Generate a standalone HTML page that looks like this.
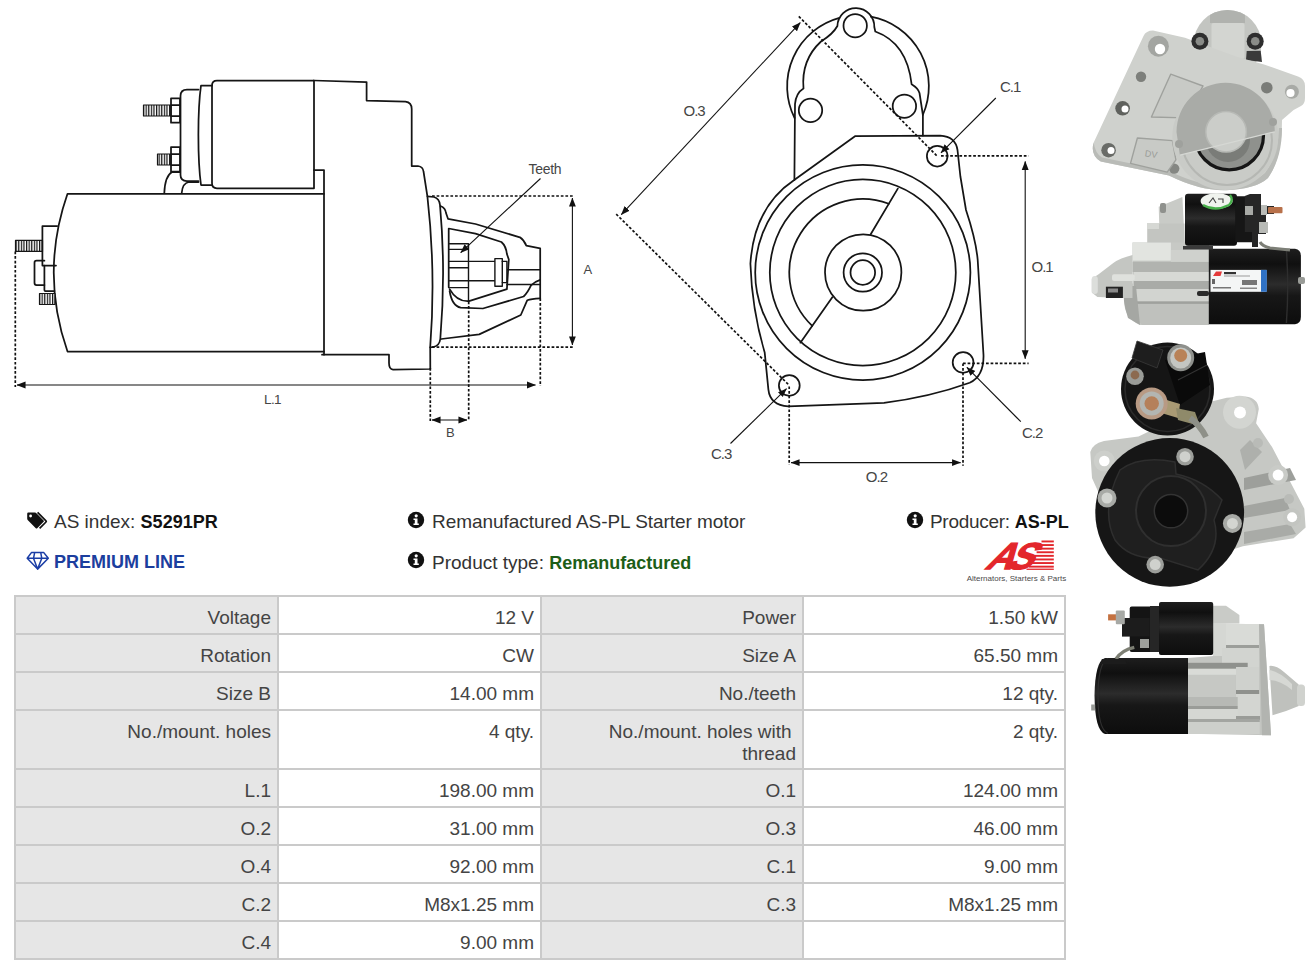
<!DOCTYPE html>
<html><head><meta charset="utf-8">
<style>
html,body{margin:0;padding:0;background:#fff;}
body{width:1316px;height:973px;position:relative;overflow:hidden;font-family:"Liberation Sans",sans-serif;}
.cell{position:absolute;}
.hl{position:absolute;left:14px;width:1052px;height:2px;background:#cacaca;}
.vl{position:absolute;top:595px;height:365px;width:2px;background:#cacaca;}
.tx{position:absolute;font-size:19px;line-height:21.6px;color:#444;text-align:right;white-space:nowrap;}
.info{position:absolute;font-size:19px;line-height:21px;color:#333;white-space:nowrap;}
.info b{color:#111;font-size:18px;}
svg{position:absolute;}
</style></head><body>

<svg style="left:0;top:0" width="1085" height="490" viewBox="0 0 1085 490">
<defs>
<marker id="ar" viewBox="0 0 10 10" refX="9.5" refY="5" markerWidth="9" markerHeight="9" markerUnits="userSpaceOnUse" orient="auto-start-reverse"><path d="M0 1.2 L10 5 L0 8.8 Z" fill="#111"/></marker>
<pattern id="thr" width="2.6" height="20" patternUnits="userSpaceOnUse"><rect width="2.6" height="20" fill="#fff"/><rect x="0" width="1.2" height="20" fill="#111"/></pattern>
</defs>
<g fill="none" stroke="#151515" stroke-width="1.75" stroke-linejoin="round" stroke-linecap="round">
<!-- LEFT DRAWING -->
<!-- solenoid body -->
<path d="M314 80.5 H217 Q212 80.5 212 85.5 V183.3 Q212 188.3 217 188.3 H314 Z" fill="#fff"/>
<path d="M212 85.5 H201 C197.5 110 197.5 160 201 185 H212"/>
<path d="M198.5 89.6 H187 Q180.5 89.6 180.5 96 V175 Q180.5 181 187 181 H198.5"/>
<!-- studs -->
<rect x="143.5" y="105" width="27.5" height="11" fill="url(#thr)" stroke-width="1.2"/>
<path d="M171 98.3 H180 V122.7 H171 Z M171 105 H180 M171 116 H180"/>
<rect x="157.5" y="154" width="13.5" height="11" fill="url(#thr)" stroke-width="1.2"/>
<path d="M171 147 H180 V171.7 H171 Z M171 154 H180 M171 165 H180"/>
<path d="M164.3 193 Q165 176 172 172 H180"/>
<path d="M181.7 193 Q182.5 183 189 182 H198.5"/>
<!-- housing -->
<path d="M314 80.5 L366.6 82.1 V100.6 L405.5 101.7 Q411.7 102.5 411.7 109 V166 H418 Q423 166.5 423.6 172 L427.4 196.3 Q436 272 430.2 347.4 L430.3 369 L393 369.6 Q389 369.3 389 363 V354.7 H322"/>
<path d="M314 170 H324 V354.7"/>
<!-- motor -->
<path d="M324 193.8 H67.5 Q40 272.6 67.5 351.5 H324"/>
<!-- terminal block -->
<rect x="15.5" y="240.4" width="27" height="11" fill="url(#thr)" stroke-width="1.2"/>
<path d="M57.2 226 H42.4 V265.6 H56"/>
<path d="M44.4 265.6 V290 Q44.4 291 45.5 291 H54.5"/>
<path d="M44.4 260.7 H36.5 Q34.5 260.7 34.5 262.7 V283 Q34.5 285 36.5 285 H44.4"/>
<rect x="39.5" y="293.5" width="15.5" height="11" fill="url(#thr)" stroke-width="1.2"/>
<!-- flange -->
<path d="M427.4 196.3 L434 197 Q439.4 198.5 440 205 Q446 272 440.3 339 Q439.5 346 433 347 L430.2 347.4"/>
<!-- nose -->
<path d="M440.5 206 Q445.5 208 446 213 L448 218.8 L475.5 224 L519.9 237.3 Q524 240 526.3 245.7 L540.2 248.4 V298.4"/>
<path d="M441.3 339 L479.2 334.4 L520.8 315 L527.3 300.2 Q531 298.8 540.2 298.4"/>
<!-- pinion cavity -->
<path d="M448.7 287.3 V228.5 L475.5 233.6 L501.4 242 Q506 246 506.9 254 L508.8 259.5 L506.9 289.1 L469 301.1 Q457 302 449.6 289.1"/>
<path d="M449.6 291 Q452 306 460.7 307.6 L482.9 308.5 L523.6 296.5 Q527.5 293 531 285.4 Q535 281.5 540.2 279.9"/>
<path d="M449.6 243.8 H468.5 V301 M449.6 249.4 H468.5 M449.6 261.4 H494.9 M449.6 267.8 H468.5 M449.6 280.8 H494.9 M449.6 287.6 H468.5" stroke-width="1.4"/>
<rect x="494.9" y="258.6" width="7.4" height="27.7" fill="#fff" stroke-width="1.4"/>
<path d="M502.3 261.4 H506.9 V282.6 H502.3 M506.9 269.7 H540.2 M506.9 284.5 H540.2" stroke-width="1.4"/>
</g>
<!-- dims left -->
<g fill="none" stroke="#111" stroke-width="1.7" stroke-dasharray="2.7 1.9">
<path d="M432 196 H574 M432 347.1 H574 M468.7 301.5 V421 M430.3 368 V421 M540.3 298.4 V386 M15.3 251.5 V387"/>
</g>
<g fill="none" stroke="#111" stroke-width="1.1">
<path d="M572.4 198 V345" marker-start="url(#ar)" marker-end="url(#ar)"/>
<path d="M432 420 H467" marker-start="url(#ar)" marker-end="url(#ar)"/>
<path d="M17 385 H535.5" marker-start="url(#ar)" marker-end="url(#ar)"/>
<path d="M540.5 178.5 L460.7 252.6" marker-end="url(#ar)"/>
</g>
<g font-family="Liberation Sans" fill="#454545" font-size="14">
<text x="528.5" y="173.7" letter-spacing="-0.3">Teeth</text>
<text x="583.5" y="274.3" font-size="13">A</text>
<text x="446" y="437" font-size="13">B</text>
<text x="264" y="404.3" font-size="13.5" letter-spacing="-0.6">L.1</text>
</g>

<!-- MIDDLE DRAWING -->
<g fill="none" stroke="#151515" stroke-width="1.75" stroke-linejoin="round" stroke-linecap="round">
<path d="M794.6 118 A70.9 70.9 0 0 1 839.4 17.9 M870.8 16.6 A70.9 70.9 0 0 1 922.8 115"/>
<path d="M794.4 180 L795 104 Q796 93 803.5 88.5 Q801 60 821 41.5 Q833 34 837.4 26 A18.2 18.2 0 0 1 874.3 27 L875.3 31.5 Q907 43 911.6 84.2 Q918 88 919.5 93 L922.9 115 V135.6"/>
<circle cx="855.2" cy="25.7" r="11.7"/>
<circle cx="810.5" cy="110.3" r="11.7"/>
<circle cx="904.4" cy="106.2" r="11.7"/>
<path d="M855 136.2 L940.3 135.6 Q955.5 136.5 957.5 150 L960.4 176.5 L966 210 Q976 240 977.7 260 L983.5 355 Q984 376 969.7 382.7 Q930 397 884 402.8 L788.3 406.4 Q770 405 768.4 389.6 L764.7 352.6 Q752 310 750.4 263.8 Q754 207 794.2 180 Z"/>
<circle cx="862.8" cy="272.5" r="107.6"/>
<circle cx="862.8" cy="272.5" r="93"/>
<path d="M888.8 203.75 A73.5 73.5 0 0 0 812.25 325.86"/>
<path d="M897.8 188.6 L870.7 234.2 M832.5 297.1 L800.4 342.7"/>
<circle cx="863.2" cy="272.5" r="38.2"/>
<circle cx="862.8" cy="272.5" r="19.2"/>
<circle cx="862.8" cy="272.5" r="12.3"/>
<circle cx="937.2" cy="156.2" r="10.3"/>
<circle cx="963.1" cy="362.4" r="10.4"/>
<circle cx="789.3" cy="385.4" r="10.4"/>
</g>
<g fill="none" stroke="#111" stroke-width="1.7" stroke-dasharray="2.7 1.9">
<path d="M798.8 16.4 L937.2 156.2 M616.2 214.1 L789.3 385.4 M941 155.8 H1028.6 M963 363.4 H1028.6 M963 363.4 V465.7 M789.2 386.4 V464.8"/>
</g>
<g fill="none" stroke="#111" stroke-width="1.1">
<path d="M621.3 214.7 L800.3 22.6" marker-start="url(#ar)" marker-end="url(#ar)"/>
<path d="M1025.2 161.4 V358.7" marker-start="url(#ar)" marker-end="url(#ar)"/>
<path d="M791 462.6 H960.6" marker-start="url(#ar)" marker-end="url(#ar)"/>
<path d="M995.8 98 L941 152.8" marker-end="url(#ar)"/>
<path d="M1020.8 421.7 L966.9 367.3" marker-end="url(#ar)"/>
<path d="M730.5 443.5 L786.5 388.7" marker-end="url(#ar)"/>
</g>
<g font-family="Liberation Sans" fill="#454545" font-size="15" letter-spacing="-1">
<text x="683.5" y="116">O.3</text>
<text x="1000" y="91.8">C.1</text>
<text x="1031.5" y="271.5">O.1</text>
<text x="1022" y="437.6">C.2</text>
<text x="865.8" y="482.1">O.2</text>
<text x="711" y="458.8">C.3</text>
</g>
</svg>

<svg style="left:1085px;top:0" width="231" height="790" viewBox="1085 0 231 790">
<defs>
<linearGradient id="blk" x1="0" y1="0" x2="0" y2="1">
<stop offset="0" stop-color="#1e1e1e"/><stop offset="0.2" stop-color="#101010"/><stop offset="0.47" stop-color="#2c2c2c"/><stop offset="0.62" stop-color="#171717"/><stop offset="1" stop-color="#0d0d0d"/>
</linearGradient>
<linearGradient id="slv" x1="0" y1="0" x2="0" y2="1">
<stop offset="0" stop-color="#d8dad6"/><stop offset="0.5" stop-color="#c6c8c4"/><stop offset="1" stop-color="#b4b6b2"/>
</linearGradient>
<radialGradient id="disc" cx="0.45" cy="0.4" r="0.65">
<stop offset="0" stop-color="#262626"/><stop offset="1" stop-color="#111"/>
</radialGradient>
</defs>
<!-- PHOTO 1 -->
<g>
<clipPath id="bossclip"><circle cx="1227.5" cy="44" r="34"/></clipPath>
<circle cx="1227.5" cy="44" r="34" fill="#c3c5c1"/>
<g clip-path="url(#bossclip)"><rect x="1211.5" y="23" width="33" height="36" rx="2" fill="#d3d5d1"/>
<rect x="1210" y="5" width="35" height="18" fill="#b0b2ae"/></g>
<path d="M1246.7 51 L1260.7 50.7 L1262 62 L1246 60 Z" fill="#3a3a3a"/>
<path d="M1153 30.5 Q1146 30.5 1143.5 36 L1093.7 142.4 Q1090 155 1100.7 161.6 L1168.9 175.6 Q1200 191 1226 190.3 Q1256 189 1268 178 Q1282 158 1282 120 L1293.6 110 L1301 106 Q1305 104 1305 98 L1305 86 Q1305 79 1298 76.5 L1264.8 64.7 L1236 56.4 L1185 37.7 Z" fill="#cfd1cd"/>
<path d="M1093.7 142.4 Q1090 155 1100.7 161.6 L1168.9 175.6 Q1200 191 1226 190.3 Q1256 189 1268 178 Q1282 158 1282 128 L1279 128 Q1278 156 1265 173 Q1250 186 1226 186.5 Q1200 186 1170 171.5 L1102 157.5 Q1095 153 1093.7 142.4 Z" fill="#b9bbb7"/>
<circle cx="1199.9" cy="41.3" r="8.5" fill="#2e2e2e"/><circle cx="1199.9" cy="41.3" r="4.3" fill="#8a8c88"/>
<circle cx="1255.2" cy="41.3" r="8.5" fill="#2e2e2e"/><circle cx="1255.2" cy="41.3" r="4.3" fill="#8a8c88"/>
<circle cx="1158.4" cy="46.2" r="10.5" fill="#a3a5a1"/><circle cx="1160" cy="49" r="5.2" fill="#fff"/>
<circle cx="1141" cy="76.8" r="5.2" fill="#7d7f7b"/>
<circle cx="1122.6" cy="108.3" r="7.3" fill="#5f615d"/><circle cx="1125" cy="109" r="3.5" fill="#fff"/>
<circle cx="1108.6" cy="150.2" r="7.3" fill="#6a6c68"/><circle cx="1111" cy="150.5" r="3.5" fill="#fff"/>
<circle cx="1174.2" cy="168.6" r="5.2" fill="#858783"/>
<circle cx="1266.8" cy="87.7" r="5.8" fill="#7a7c78"/>
<circle cx="1291.9" cy="91.8" r="7" fill="#a8aaa6"/><circle cx="1290.5" cy="93" r="4.1" fill="#fff"/>
<path d="M1170.7 74.2 L1203 86 L1185 117.9 L1151.4 117 Z" fill="#c8cac6" stroke="#9fa19d" stroke-width="1.4" stroke-linejoin="round"/>
<path d="M1137.4 138 L1172.4 140.6 L1175.9 159.9 L1167.2 172.1 L1130.5 163.4 Z" fill="#c8cac6" stroke="#9fa19d" stroke-width="1.4" stroke-linejoin="round"/>
<text x="1145" y="157" font-family="Liberation Sans" font-size="9" fill="#9a9c98" transform="rotate(8 1150 153)">DV</text>
<circle cx="1225.3" cy="137" r="53" fill="#c9cbc7"/>
<circle cx="1227" cy="140" r="45" fill="none" stroke="#b5b7b3" stroke-width="2"/>
<circle cx="1229.2" cy="135.5" r="34.3" fill="#8f918d" stroke="#161616" stroke-width="3.2"/>
<circle cx="1228" cy="140" r="22" fill="#7a7c78"/>
<path d="M1179.9 155.2 L1274.8 131.8 A48 48 0 0 0 1176.5 132 Z" fill="#a9aba7"/>
<circle cx="1226.1" cy="131.8" r="20.3" fill="#cbcdc9" stroke="#b7b9b5" stroke-width="1.5"/>
<path d="M1179.9 155.2 L1274.8 131.8" stroke="#d6d8d4" stroke-width="1.2"/>
<circle cx="1179" cy="144" r="4" fill="#9fa19d"/>
<circle cx="1273" cy="122" r="4" fill="#9fa19d"/>
</g>
<!-- PHOTO 2 -->
<g>
<path d="M1158.7 206.7 L1182.4 197 L1185 248 L1160 248 Z" fill="#c9cbc7"/>
<rect x="1160" y="203" width="6" height="10" rx="2" fill="#8f918d"/>
<path d="M1147.2 223.4 H1184.5 V248.3 H1147.2 Z" fill="#c3c5c1"/>
<rect x="1147" y="223" width="12" height="6" fill="#d6d8d4"/>
<path d="M1132.5 242.6 H1209 V325.1 H1140 Q1124 318 1124 300 L1132.5 283 Z" fill="#c7c9c5"/>
<rect x="1132.5" y="242.6" width="38.4" height="18" fill="#e2e4e0"/>
<rect x="1132.5" y="261.8" width="76.5" height="10.2" fill="#b1b3af"/>
<rect x="1170.9" y="250" width="38" height="11.8" fill="#cfd1cd"/>
<rect x="1134" y="272" width="75" height="9" fill="#d7d9d5"/>
<rect x="1134" y="281" width="75" height="8" fill="#a9aba7"/>
<rect x="1134" y="289" width="75" height="12" fill="#d2d4d0"/>
<rect x="1134" y="301.4" width="75" height="2.5" fill="#9fa19d"/>
<path d="M1134 304 H1209 V325.1 H1142 Q1134 318 1134 304 Z" fill="#bfc1bd"/>
<path d="M1124 286 Q1122 300 1128 318 L1140 325 L1136 286 Z" fill="#a5a7a3"/>
<path d="M1132.5 255 Q1120 258 1113.3 263 L1098.6 274.3 L1091.8 278.8 L1091.8 292.4 L1097.4 296.9 L1122.3 298 L1132.5 298 Z" fill="#c4c6c2"/>
<rect x="1091.8" y="276" width="6" height="18" rx="3" fill="#dcdedb"/>
<rect x="1112" y="274.3" width="22.7" height="6.7" rx="2" fill="#dfe1dd"/>
<rect x="1105.9" y="286.7" width="17" height="11.3" fill="#232323"/>
<rect x="1108" y="288.5" width="10" height="4" fill="#8a8a8a"/>
<rect x="1197" y="291" width="12" height="5" rx="2" fill="#2a2a2a"/>
<path d="M1208.8 248.8 H1295 Q1300.9 249.5 1300.9 256 V317 Q1300.9 323.5 1295 324.3 H1208.8 Z" fill="url(#blk)"/>
<path d="M1286.4 250 Q1289 286 1286.4 323" fill="none" stroke="#2e2e2e" stroke-width="1.4"/>
<rect x="1210.5" y="269.9" width="56" height="21.9" fill="#f4f6f6"/>
<rect x="1261" y="269.9" width="5.8" height="21.9" fill="#2f72c6"/>
<path d="M1213 276 L1216 271.5 H1219 L1222 271.5 L1220.5 276 Z" fill="#e43a3a"/>
<rect x="1224" y="272" width="12" height="2.2" fill="#333"/>
<rect x="1224" y="275.5" width="26" height="1" fill="#999"/>
<rect x="1212" y="279" width="3" height="5" fill="#666"/>
<rect x="1242" y="280" width="15" height="5" fill="#777"/>
<rect x="1213" y="287" width="18" height="1.5" fill="#777"/>
<rect x="1240" y="287.5" width="17" height="1.5" fill="#888"/>
<rect x="1298" y="277" width="7" height="7" rx="2" fill="#9a9c98"/>
<rect x="1185" y="193.8" width="52" height="52" rx="3" fill="url(#blk)"/>
<rect x="1235.2" y="196.3" width="22" height="46" rx="1.5" fill="#161616"/>
<rect x="1183" y="246" width="30" height="3.5" fill="#3a3a3a"/>
<ellipse cx="1216.6" cy="201" rx="16" ry="7.8" fill="#f0f3ee"/>
<path d="M1203 205 Q1215 212 1229 205 Q1234 200 1230 195" fill="none" stroke="#49b04c" stroke-width="2.4"/>
<path d="M1209 203 L1213 198 L1216 203 M1218 199 H1223 V203" fill="none" stroke="#444" stroke-width="1.1"/>
<path d="M1244.8 196 L1250 193.9 H1261 V206 H1274 V214 H1266 V234 H1258 V247 H1252 V232 H1244.8 Z" fill="#262626"/>
<rect x="1245" y="206" width="8" height="9" fill="#a8aaa6"/>
<rect x="1261" y="205" width="6" height="10" fill="#b9bbb7"/>
<rect x="1268" y="207" width="14.5" height="6.2" rx="1" fill="#b8714a"/>
<rect x="1259" y="222" width="9" height="11" fill="#b8bab6"/>
<path d="M1260 242 Q1262 246 1270 248 L1290 250" fill="none" stroke="#7d7f77" stroke-width="3"/>
</g>
<!-- PHOTO 3 -->
<g>
<path d="M1090.3 452 Q1092 444 1104 441 L1138.5 436.6 L1210.7 401.8 L1226.7 397.8 L1245.4 396.5 Q1258 398 1258.8 409 L1256.1 423.2 L1272.2 447.3 L1304.3 508.8 L1305.6 527.5 L1293.6 538.2 L1242.8 546.2 L1200 560 L1120 540 L1092 478 Z" fill="#c6c8c4"/>
<path d="M1250 440 L1262 452 L1245 470 L1240 450 Z" fill="#aeb0ac"/>
<path d="M1244 478 L1290 468 L1296 480 L1244 490 Z" fill="#9d9f9b"/>
<path d="M1244 506 L1285 498 L1290 510 L1244 518 Z" fill="#a3a5a1"/>
<path d="M1244 532 L1290 524 L1296 534 L1244 544 Z" fill="#a9aba7"/>
<circle cx="1239.5" cy="412.2" r="16.5" fill="#d3d5d1"/><circle cx="1240" cy="412.5" r="6" fill="#fff"/>
<circle cx="1278.1" cy="475.1" r="10" fill="#c9cbc7"/><circle cx="1278.1" cy="475.1" r="5.5" fill="#fff"/>
<circle cx="1292.1" cy="517.2" r="9" fill="#c3c5c1"/><circle cx="1292.1" cy="517.2" r="5" fill="#fff"/>
<circle cx="1258" cy="443" r="5" fill="#b9bbb7"/>
<circle cx="1289" cy="499" r="5" fill="#b9bbb7"/>
<circle cx="1104.3" cy="461" r="10.5" fill="#cdcfcb"/><circle cx="1104.3" cy="461" r="5.3" fill="#fff"/>
<circle cx="1167.5" cy="389" r="46.5" fill="#151515"/>
<circle cx="1167.5" cy="389" r="42.5" fill="none" stroke="#2a2a2a" stroke-width="1.6"/>
<path d="M1137 341 L1163 350 L1157 368 L1132 358 Z" fill="#1e1e1e" stroke="#3a3a3a" stroke-width="0.8"/>
<path d="M1165 360 L1205 352 L1210 385 L1180 405 Z" fill="#0a0a0a"/>
<path d="M1178 380 L1207 365" stroke="#333" stroke-width="1.2"/>
<circle cx="1180.7" cy="357.8" r="13.5" fill="#8e908c"/><circle cx="1180.7" cy="358" r="10.5" fill="#c4c6c2"/><circle cx="1180.7" cy="355.5" r="6.5" fill="#b98257"/>
<circle cx="1135" cy="376.2" r="8.8" fill="#9a9c98"/><circle cx="1135" cy="375" r="4.4" fill="#8c6a50"/>
<path d="M1160 398 L1180 404 L1178 418 L1158 412 Z" fill="#a99a74"/>
<path d="M1176 408 L1195 412 L1200 426 L1178 420 Z" fill="#8f8a6a"/>
<path d="M1190 418 Q1200 425 1206 437" stroke="#8e9088" stroke-width="6" fill="none"/>
<circle cx="1151.7" cy="403.5" r="16" fill="#b89a84"/><circle cx="1151.7" cy="403.5" r="12" fill="#b3b5b1"/><circle cx="1151.7" cy="403.5" r="7.2" fill="#b5805a"/>
<circle cx="1169.7" cy="512.4" r="74.4" fill="#161616"/>
<path d="M1120 470 Q1140 455 1175 462 L1176 474 Q1204 480 1222 500 L1214 520 Q1222 548 1198 570 L1160 558 Q1130 560 1115 540 Q1100 510 1120 470 Z" fill="#1f1f1f" stroke="#2e2e2e" stroke-width="1.5"/>
<circle cx="1171" cy="511.1" r="35" fill="#1a1a1a" stroke="#2f2f2f" stroke-width="2"/>
<circle cx="1171" cy="511.1" r="16.7" fill="#0c0c0c" stroke="#333" stroke-width="1.5"/>
<circle cx="1185" cy="456.7" r="8.8" fill="#9c9e9a"/><circle cx="1185" cy="456.7" r="5.5" fill="#cfd1cd"/>
<circle cx="1107" cy="498" r="9.5" fill="#a8aaa6"/><circle cx="1107" cy="498" r="5.5" fill="#d3d5d1"/>
<circle cx="1232.4" cy="523.4" r="9.5" fill="#a8aaa6"/><circle cx="1232.4" cy="523.4" r="5.5" fill="#d3d5d1"/>
<circle cx="1155.2" cy="564.6" r="8.8" fill="#9c9e9a"/><circle cx="1155.2" cy="564.6" r="5.5" fill="#cfd1cd"/>
</g>
<!-- PHOTO 4 -->
<g>
<path d="M1213 605.8 L1226 605.8 L1239.4 615 L1239.4 623.5 L1213 623.5 Z" fill="#c9cbc7"/>
<path d="M1187.7 658 L1213 656 L1213 623.5 L1264 624.3 L1271 735.3 L1187.7 733.8 Z" fill="#c3c5c1"/>
<path d="M1213 623.5 H1226 V656 H1213 Z" fill="#d5d7d3"/>
<path d="M1226 624 H1259 V645 H1226 Z" fill="#d9dbd7"/>
<rect x="1226" y="645" width="33" height="3" fill="#9c9e9a"/>
<path d="M1222 648 H1259 V667 H1222 Z" fill="#d2d4d0"/>
<rect x="1187.7" y="662.8" width="60" height="6" fill="#8f918d"/>
<rect x="1187.7" y="668.8" width="56" height="6" fill="#d9dbd7"/>
<path d="M1236 667 H1259 V690 H1236 Z" fill="#cfd1cd"/>
<rect x="1187.7" y="675" width="48" height="22" fill="#c6c8c4"/>
<rect x="1236" y="690" width="23" height="4" fill="#8f918d"/>
<path d="M1236 694 H1260 V716 H1236 Z" fill="#d3d5d1"/>
<rect x="1187.7" y="697" width="50" height="9" fill="#b7b9b5"/>
<rect x="1187.7" y="706" width="50" height="3" fill="#9a9c98"/>
<rect x="1187.7" y="709" width="50" height="10" fill="#d5d7d3"/>
<rect x="1236" y="716" width="24" height="4" fill="#9a9c98"/>
<rect x="1187.7" y="719" width="72" height="3" fill="#a3a5a1"/>
<rect x="1187.7" y="722" width="72" height="12" fill="#cdcfcb"/>
<path d="M1259 624.3 L1264 624.3 L1271 735.3 L1262 735.3 Z" fill="#b2b4b0"/>
<path d="M1269.4 665.9 Q1276 665 1284 672 L1298.7 684.4 L1298.7 706 Q1285 712 1272.5 715.3 Z" fill="#bfc1bd"/>
<path d="M1269.4 670 Q1280 672 1292 684 L1292 690 Q1280 680 1269.4 680 Z" fill="#d6d8d4"/>
<rect x="1297" y="684.4" width="8" height="21.6" rx="3.5" fill="#d0d2ce"/>
<path d="M1188 658 H1105 Q1095 661 1094.5 696 Q1095 731 1105 733.9 H1188 Z" fill="url(#blk)"/>
<path d="M1108 658.5 Q1098 663 1098 696 Q1098 729 1108 733.5" fill="none" stroke="#2e2e2e" stroke-width="1.2"/>
<rect x="1091.2" y="704.5" width="4" height="6" fill="#9a9c98"/>
<rect x="1159" y="601.9" width="54.2" height="53.2" rx="2" fill="url(#blk)"/>
<rect x="1129.7" y="606.6" width="29.5" height="45.4" rx="2" fill="#141414"/>
<rect x="1150" y="606" width="9" height="46" fill="#262626"/>
<rect x="1122" y="618" width="27.8" height="18.6" fill="#1c1c1c"/>
<rect x="1108.1" y="614.3" width="9.3" height="6.1" fill="#c47140"/>
<rect x="1115.8" y="610.4" width="9" height="13.9" rx="1" fill="#a7a9a5"/>
<rect x="1140" y="639" width="9" height="9" fill="#9d9f9b"/>
<path d="M1116 659 Q1122 650 1134.3 647.4" fill="none" stroke="#7d7f74" stroke-width="3.5"/>
<path d="M1102 659 H1125 L1127 664 H1100 Z" fill="#1c1c1c"/>
</g>
</svg>

<svg style="left:24px;top:508px" width="26" height="24" viewBox="24 508 26 24">
 <path d="M28.3 512.6 H35 Q35.8 512.6 36.4 513.2 L43.6 520.4 Q44.3 521.1 43.6 521.8 L37.2 528.2 Q36.5 528.9 35.8 528.2 L27.9 520.3 Q27.2 519.6 27.2 518.8 V513.7 Q27.2 512.6 28.3 512.6 Z" fill="#111"/>
 <circle cx="30.6" cy="516" r="1.4" fill="#fff"/>
 <path d="M37.6 512.4 L46 520.8 Q46.6 521.4 46 522 L39.6 528.4" fill="none" stroke="#111" stroke-width="1.7"/>
</svg>
<div class="info" style="left:54px;top:511px">AS index: <b>S5291PR</b></div>
<svg style="left:24px;top:548px" width="28" height="26" viewBox="24 548 28 26">
 <path d="M31.6 552.4 H43.6 L48.3 558.3 L37.6 569.1 L27.2 558.3 Z M27.2 558.3 H48.3 M34.7 552.4 L33.5 558.3 L37.6 569.1 L41.8 558.3 L40.7 552.4" fill="none" stroke="#1b3ea6" stroke-width="1.5" stroke-linejoin="round"/>
</svg>
<div class="info" style="left:54px;top:551.5px;color:#1c3e9e;font-weight:bold;font-size:18px">PREMIUM LINE</div>
<svg style="left:407px;top:511px" width="18" height="18" viewBox="0 0 18 18">
 <circle cx="9" cy="9" r="8.2" fill="#111"/>
 <circle cx="9.2" cy="4.8" r="1.6" fill="#fff"/>
 <path d="M6.5 7.5 H10.5 V12.5 H11.8 V14 H6.5 V12.5 H7.8 V9 H6.5 Z" fill="#fff"/>
</svg>
<div class="info" style="left:432px;top:511px;letter-spacing:-0.05px">Remanufactured AS-PL Starter motor</div>
<svg style="left:407px;top:551px" width="18" height="18" viewBox="0 0 18 18">
 <circle cx="9" cy="9" r="8.2" fill="#111"/>
 <circle cx="9.2" cy="4.8" r="1.6" fill="#fff"/>
 <path d="M6.5 7.5 H10.5 V12.5 H11.8 V14 H6.5 V12.5 H7.8 V9 H6.5 Z" fill="#fff"/>
</svg>
<div class="info" style="left:432px;top:551.5px">Product type: <b style="color:#1d5e17">Remanufactured</b></div>
<svg style="left:906px;top:511px" width="18" height="18" viewBox="0 0 18 18">
 <circle cx="9" cy="9" r="8.2" fill="#111"/>
 <circle cx="9.2" cy="4.8" r="1.6" fill="#fff"/>
 <path d="M6.5 7.5 H10.5 V12.5 H11.8 V14 H6.5 V12.5 H7.8 V9 H6.5 Z" fill="#fff"/>
</svg>
<div class="info" style="left:930px;top:511px;letter-spacing:-0.3px">Producer: <b style="letter-spacing:0">AS-PL</b></div>

<svg style="left:960px;top:535px" width="110" height="50" viewBox="960 535 110 50">
<g fill="#e3262b">
<text x="0" y="0" transform="translate(984,569.3) skewX(-33) scale(1.0,1)" font-family="Liberation Sans" font-weight="bold" font-size="37.5" letter-spacing="-5.5" stroke="#e3262b" stroke-width="1.3">AS</text>
<rect x="1041.5" y="540.5" width="12.3" height="1.9"/>
<rect x="1040.2" y="544.1" width="13.6" height="1.9"/>
<rect x="1038.6" y="547.7" width="15.2" height="1.9"/>
<rect x="1036.6" y="551.3" width="17.2" height="1.9"/>
<rect x="1035" y="554.9" width="18.8" height="1.9"/>
<rect x="1033.2" y="558.5" width="20.6" height="1.9"/>
<rect x="1031" y="562.1" width="22.8" height="1.9"/>
<rect x="1028.6" y="565.7" width="25.2" height="1.9"/>
<rect x="1026.5" y="568.6" width="27.3" height="1.3"/>
</g>
<text x="966.7" y="580.8" font-family="Liberation Sans" font-size="8" fill="#4a4a4a" textLength="99.5" lengthAdjust="spacingAndGlyphs">Alternators, Starters &amp; Parts</text>
</svg>

<div class="cell" style="left:16px;top:597px;width:261px;height:36px;background:#e6e6e6"></div>
<div class="cell" style="left:279px;top:597px;width:261px;height:36px;background:#fff"></div>
<div class="cell" style="left:542px;top:597px;width:260px;height:36px;background:#e6e6e6"></div>
<div class="cell" style="left:804px;top:597px;width:260px;height:36px;background:#fff"></div>
<div class="cell" style="left:16px;top:635px;width:261px;height:36px;background:#e6e6e6"></div>
<div class="cell" style="left:279px;top:635px;width:261px;height:36px;background:#fff"></div>
<div class="cell" style="left:542px;top:635px;width:260px;height:36px;background:#e6e6e6"></div>
<div class="cell" style="left:804px;top:635px;width:260px;height:36px;background:#fff"></div>
<div class="cell" style="left:16px;top:673px;width:261px;height:36px;background:#e6e6e6"></div>
<div class="cell" style="left:279px;top:673px;width:261px;height:36px;background:#fff"></div>
<div class="cell" style="left:542px;top:673px;width:260px;height:36px;background:#e6e6e6"></div>
<div class="cell" style="left:804px;top:673px;width:260px;height:36px;background:#fff"></div>
<div class="cell" style="left:16px;top:711px;width:261px;height:57px;background:#e6e6e6"></div>
<div class="cell" style="left:279px;top:711px;width:261px;height:57px;background:#fff"></div>
<div class="cell" style="left:542px;top:711px;width:260px;height:57px;background:#e6e6e6"></div>
<div class="cell" style="left:804px;top:711px;width:260px;height:57px;background:#fff"></div>
<div class="cell" style="left:16px;top:770px;width:261px;height:36px;background:#e6e6e6"></div>
<div class="cell" style="left:279px;top:770px;width:261px;height:36px;background:#fff"></div>
<div class="cell" style="left:542px;top:770px;width:260px;height:36px;background:#e6e6e6"></div>
<div class="cell" style="left:804px;top:770px;width:260px;height:36px;background:#fff"></div>
<div class="cell" style="left:16px;top:808px;width:261px;height:36px;background:#e6e6e6"></div>
<div class="cell" style="left:279px;top:808px;width:261px;height:36px;background:#fff"></div>
<div class="cell" style="left:542px;top:808px;width:260px;height:36px;background:#e6e6e6"></div>
<div class="cell" style="left:804px;top:808px;width:260px;height:36px;background:#fff"></div>
<div class="cell" style="left:16px;top:846px;width:261px;height:36px;background:#e6e6e6"></div>
<div class="cell" style="left:279px;top:846px;width:261px;height:36px;background:#fff"></div>
<div class="cell" style="left:542px;top:846px;width:260px;height:36px;background:#e6e6e6"></div>
<div class="cell" style="left:804px;top:846px;width:260px;height:36px;background:#fff"></div>
<div class="cell" style="left:16px;top:884px;width:261px;height:36px;background:#e6e6e6"></div>
<div class="cell" style="left:279px;top:884px;width:261px;height:36px;background:#fff"></div>
<div class="cell" style="left:542px;top:884px;width:260px;height:36px;background:#e6e6e6"></div>
<div class="cell" style="left:804px;top:884px;width:260px;height:36px;background:#fff"></div>
<div class="cell" style="left:16px;top:922px;width:261px;height:36px;background:#e6e6e6"></div>
<div class="cell" style="left:279px;top:922px;width:261px;height:36px;background:#fff"></div>
<div class="cell" style="left:542px;top:922px;width:260px;height:36px;background:#e6e6e6"></div>
<div class="cell" style="left:804px;top:922px;width:260px;height:36px;background:#fff"></div>
<div class="hl" style="top:595px"></div>
<div class="hl" style="top:633px"></div>
<div class="hl" style="top:671px"></div>
<div class="hl" style="top:709px"></div>
<div class="hl" style="top:768px"></div>
<div class="hl" style="top:806px"></div>
<div class="hl" style="top:844px"></div>
<div class="hl" style="top:882px"></div>
<div class="hl" style="top:920px"></div>
<div class="hl" style="top:958px"></div>
<div class="vl" style="left:14px"></div>
<div class="vl" style="left:277px"></div>
<div class="vl" style="left:540px"></div>
<div class="vl" style="left:802px"></div>
<div class="vl" style="left:1064px"></div>
<div class="tx" style="right:1045px;top:607px">Voltage</div>
<div class="tx" style="right:782px;top:607px">12 V</div>
<div class="tx" style="right:520px;top:607px">Power</div>
<div class="tx" style="right:258px;top:607px">1.50 kW</div>
<div class="tx" style="right:1045px;top:645px">Rotation</div>
<div class="tx" style="right:782px;top:645px">CW</div>
<div class="tx" style="right:520px;top:645px">Size A</div>
<div class="tx" style="right:258px;top:645px">65.50 mm</div>
<div class="tx" style="right:1045px;top:683px">Size B</div>
<div class="tx" style="right:782px;top:683px">14.00 mm</div>
<div class="tx" style="right:520px;top:683px">No./teeth</div>
<div class="tx" style="right:258px;top:683px">12 qty.</div>
<div class="tx" style="right:1045px;top:721px">No./mount. holes</div>
<div class="tx" style="right:782px;top:721px">4 qty.</div>
<div class="tx" style="right:520px;top:721px"><span style="padding-right:4.5px">No./mount. holes with</span><br>thread</div>
<div class="tx" style="right:258px;top:721px">2 qty.</div>
<div class="tx" style="right:1045px;top:780px">L.1</div>
<div class="tx" style="right:782px;top:780px">198.00 mm</div>
<div class="tx" style="right:520px;top:780px">O.1</div>
<div class="tx" style="right:258px;top:780px">124.00 mm</div>
<div class="tx" style="right:1045px;top:818px">O.2</div>
<div class="tx" style="right:782px;top:818px">31.00 mm</div>
<div class="tx" style="right:520px;top:818px">O.3</div>
<div class="tx" style="right:258px;top:818px">46.00 mm</div>
<div class="tx" style="right:1045px;top:856px">O.4</div>
<div class="tx" style="right:782px;top:856px">92.00 mm</div>
<div class="tx" style="right:520px;top:856px">C.1</div>
<div class="tx" style="right:258px;top:856px">9.00 mm</div>
<div class="tx" style="right:1045px;top:894px">C.2</div>
<div class="tx" style="right:782px;top:894px">M8x1.25 mm</div>
<div class="tx" style="right:520px;top:894px">C.3</div>
<div class="tx" style="right:258px;top:894px">M8x1.25 mm</div>
<div class="tx" style="right:1045px;top:932px">C.4</div>
<div class="tx" style="right:782px;top:932px">9.00 mm</div>
</body></html>
